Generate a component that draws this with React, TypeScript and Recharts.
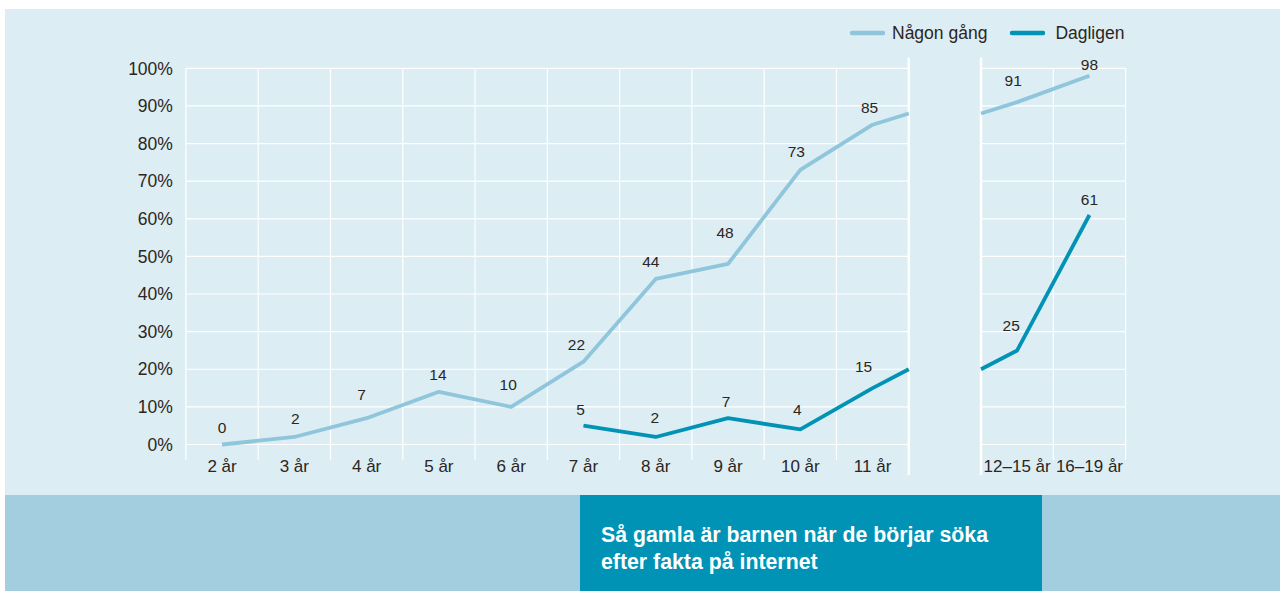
import React from 'react';
import { LineChart, Line, XAxis, YAxis, ReferenceLine, LabelList, Legend } from 'recharts';

// Age groups, the last two sit after the axis break
const categories = ['2 år', '3 år', '4 år', '5 år', '6 år', '7 år', '8 år', '9 år', '10 år', '11 år', '12–15 år', '16–19 år'];
const nagonGang = [0, 2, 7, 14, 10, 22, 44, 48, 73, 85, 91, 98];
const dagligen = [null, null, null, null, null, 5, 2, 7, 4, 15, 25, 61];
// where each line meets the break (left edge, right edge)
const nagonGangAtBreak = [88, 88];
const dagligenAtBreak = [20, 20];
const yTicks = [0, 10, 20, 30, 40, 50, 60, 70, 80, 90, 100];
const legendOrder = ['Någon gång', 'Dagligen'];

const LIGHT = '#8fc6db';
const TEAL = '#0093b5';
const TEXT = '#2b2622';
const FONT = '"Liberation Sans", Arial, Helvetica, sans-serif';

// slot index on the x axis: slot 10 is the gap
const slotOf = (i: number) => (i < 10 ? i : i + 1);
const tickPositions = categories.map((_, i) => slotOf(i) + 0.5);

const rows: any[] = [];
categories.forEach((cat, i) => {
  if (i === 10) {
    rows.push({ x: 10, nagon: nagonGangAtBreak[0], dag: dagligenAtBreak[0] });
    rows.push({ x: 10.5, nagon: null, dag: null });
    rows.push({ x: 11, nagon: nagonGangAtBreak[1], dag: dagligenAtBreak[1] });
  }
  rows.push({
    x: slotOf(i) + 0.5,
    cat,
    nagon: nagonGang[i],
    dag: dagligen[i],
    nagonLabel: nagonGang[i],
    dagLabel: dagligen[i],
  });
});

// small label nudges [dx, dy] keyed by value
const nagonNudge: Record<number, [number, number]> = {
  0: [0, -17], 2: [1, -18], 7: [-5, -24], 14: [-1, -17], 10: [-3, -22], 22: [-7, -17],
  44: [-5, -17], 48: [-3, -31], 73: [-4, -18], 85: [-3, -17], 91: [-4, -22], 98: [0, -11],
};
const dagNudge: Record<number, [number, number]> = {
  5: [-3, -16], 2: [-1, -19], 7: [-2, -17], 4: [-3, -20], 15: [-9, -22], 25: [-6, -25], 61: [0, -16],
};

const makeLabel = (nudge: Record<number, [number, number]>) => (props: any) => {
  const { x, y, value } = props;
  if (value === null || value === undefined) return null;
  const [dx, dy] = nudge[value] || [-4, -17];
  return (
    <text
      x={x + dx}
      y={y + dy}
      fill={TEXT}
      fontSize={15.5}
      fontFamily={FONT}
      textAnchor="middle"
      dominantBaseline="central"
    >
      {value}
    </text>
  );
};

const CustomLegend = ({ payload }: any) => {
  const items = [...(payload || [])].sort(
    (a: any, b: any) => legendOrder.indexOf(a.value) - legendOrder.indexOf(b.value)
  );
  return (
    <div style={{ display: 'flex', alignItems: 'center', height: 20, fontFamily: FONT, fontSize: 17.5, color: TEXT }}>
      {items.map((entry: any, index: number) => (
        <div key={`item-${index}`} style={{ display: 'flex', alignItems: 'center', marginRight: 22 }}>
          <svg width={36} height={8}>
            <line x1={3} x2={34} y1={4} y2={4} stroke={entry.color} strokeWidth={4.5} strokeLinecap="round" />
          </svg>
          <span style={{ marginLeft: index === 0 ? 7 : 10 }}>{entry.value}</span>
        </div>
      ))}
    </div>
  );
};

const thinVerticals = [0, 1, 2, 3, 4, 5, 6, 7, 8, 9, 12, 13];
const breaks = [10, 11];

export default function App() {
  return (
    <div style={{ position: 'absolute', left: 5, top: 9, width: 1275, fontFamily: FONT }}>
      <div style={{ position: 'relative', height: 486, background: '#ddedf4' }}>
        <LineChart
          width={1275}
          height={486}
          data={rows}
          margin={{ top: 59.3, right: 154.4, bottom: 20.5, left: 0 }}
        >
          <XAxis
            type="number"
            dataKey="x"
            domain={[0, 13]}
            ticks={tickPositions}
            interval={0}
            tickFormatter={(v: number) => categories[tickPositions.indexOf(v)] ?? ''}
            axisLine={false}
            tickLine={false}
            tickSize={6}
            tickMargin={9.5}
            height={30}
            tick={{ fill: TEXT, fontSize: 17, fontFamily: FONT }}
          />
          <YAxis
            type="number"
            domain={[0, 100]}
            ticks={yTicks}
            interval={0}
            tickFormatter={(v: number) => `${v}%`}
            axisLine={false}
            tickLine={false}
            tickSize={6}
            tickMargin={7}
            width={180.9}
            tick={{ fill: TEXT, fontSize: 17.5, fontFamily: FONT }}
          />

          {yTicks.map((t) => (
            <ReferenceLine
              key={`hl-${t}`}
              segment={[{ x: 0, y: t }, { x: 10, y: t }]}
              stroke="#ffffff"
              strokeWidth={1.2}
              ifOverflow="visible"
            />
          ))}
          {yTicks.map((t) => (
            <ReferenceLine
              key={`hr-${t}`}
              segment={[{ x: 11, y: t }, { x: 13, y: t }]}
              stroke="#ffffff"
              strokeWidth={1.2}
              ifOverflow="visible"
            />
          ))}
          {thinVerticals.map((v) => (
            <ReferenceLine
              key={`v-${v}`}
              segment={[{ x: v, y: -4.1 }, { x: v, y: 100 }]}
              stroke="#ffffff"
              strokeWidth={1.2}
              ifOverflow="visible"
            />
          ))}
          {breaks.map((v) => (
            <ReferenceLine
              key={`b-${v}`}
              segment={[{ x: v, y: -8.1 }, { x: v, y: 102.9 }]}
              stroke="#ffffff"
              strokeWidth={2.4}
              ifOverflow="visible"
            />
          ))}

          <Legend
            verticalAlign="middle"
            layout="horizontal"
            content={<CustomLegend />}
            wrapperStyle={{ top: 14, left: 844, width: 'auto', height: 20 }}
          />

          <Line
            name="Någon gång"
            dataKey="nagon"
            type="linear"
            stroke={LIGHT}
            strokeWidth={3.8}
            dot={false}
            activeDot={false}
            connectNulls={false}
            strokeLinejoin="round"
            isAnimationActive={false}
          >
            <LabelList dataKey="nagonLabel" content={makeLabel(nagonNudge)} />
          </Line>
          <Line
            name="Dagligen"
            dataKey="dag"
            type="linear"
            stroke={TEAL}
            strokeWidth={3.8}
            dot={false}
            activeDot={false}
            connectNulls={false}
            strokeLinejoin="round"
            isAnimationActive={false}
          >
            <LabelList dataKey="dagLabel" content={makeLabel(dagNudge)} />
          </Line>
        </LineChart>
      </div>
      <div style={{ position: 'relative', height: 96, background: '#a3cee0' }}>
        <div
          style={{
            position: 'absolute',
            left: 575,
            top: 0,
            width: 462,
            height: 96,
            background: TEAL,
            color: '#ffffff',
            fontWeight: 700,
            fontSize: 21.3,
            lineHeight: '27px',
            padding: '27px 0 0 21px',
            boxSizing: 'border-box',
          }}
        >
          Så gamla är barnen när de börjar söka
          <br />
          efter fakta på internet
        </div>
      </div>
    </div>
  );
}
